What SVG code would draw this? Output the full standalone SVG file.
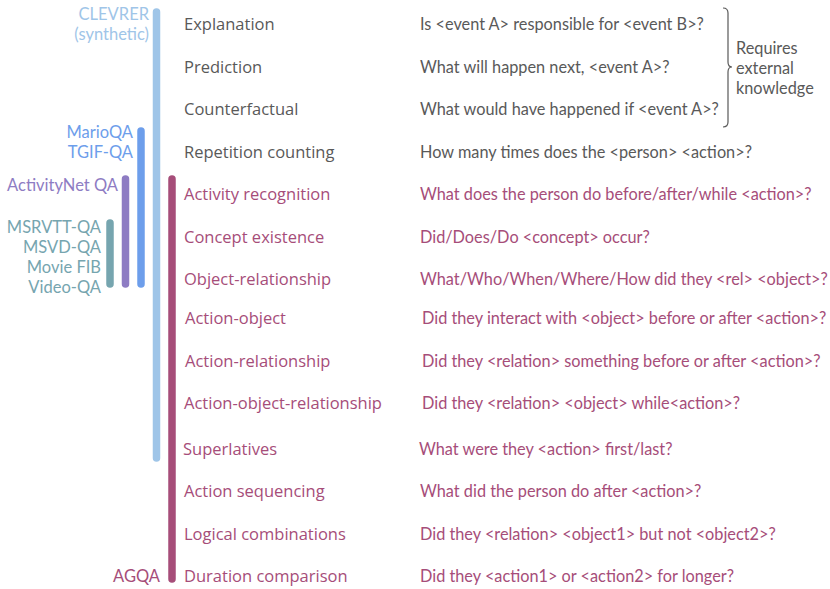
<svg xmlns="http://www.w3.org/2000/svg" width="830" height="589" viewBox="0 0 830 589">
<style>
.bar{stroke-width:7.5;stroke-linecap:round;fill:none}
.ds{font-family:Lato,"Open Sans",sans-serif;font-size:16.5px;text-anchor:end}
.cat{font-family:"Open Sans",Lato,sans-serif;font-size:16.5px}
.q{font-family:Lato,"Open Sans",sans-serif;font-size:16.3px}
.g{fill:#595959}
.m{fill:#a64d79}
</style>
<rect width="830" height="589" fill="#ffffff"/>
<g id="connectors">
<line class="bar" x1="156.5" y1="12" x2="156.5" y2="458" stroke="#9fc5e8"/>
<line class="bar" x1="141" y1="131" x2="141" y2="284" stroke="#6d9eeb"/>
<line class="bar" x1="125.5" y1="179" x2="125.5" y2="284" stroke="#8e7cc3"/>
<line class="bar" x1="110" y1="223" x2="110" y2="284" stroke="#76a5af"/>
<line class="bar" x1="172" y1="179" x2="172" y2="579" stroke="#a64d79"/>
<path d="M723,8 q5,0 5,5 v49 q0,5 4,5 q-4,0 -4,5 v50 q0,5 -5,5" fill="none" stroke="#595959" stroke-width="1.2"/>
</g>
<g id="datasets">
<text class="ds" x="149" y="20" fill="#9fc5e8">CLEVRER</text>
<text class="ds" x="149" y="40" fill="#9fc5e8">(synthetic)</text>
<text class="ds" x="133" y="138" fill="#6d9eeb">MarioQA</text>
<text class="ds" x="133" y="158" fill="#6d9eeb">TGIF-QA</text>
<text class="ds" x="118" y="191" fill="#8e7cc3">ActivityNet QA</text>
<text class="ds" x="101" y="233" fill="#76a5af">MSRVTT-QA</text>
<text class="ds" x="101" y="253" fill="#76a5af">MSVD-QA</text>
<text class="ds" x="101" y="273" fill="#76a5af">Movie FIB</text>
<text class="ds" x="101" y="293" fill="#76a5af">Video-QA</text>
<text class="ds" x="160" y="582" fill="#a64d79">AGQA</text>
</g>
<g id="row1"><text class="cat g" x="184" y="30">Explanation</text><text class="q g" x="420" y="30">Is &lt;event A&gt; responsible for &lt;event B&gt;?</text></g>
<g id="row2"><text class="cat g" x="184" y="73">Prediction</text><text class="q g" x="420" y="73">What will happen next, &lt;event A&gt;?</text></g>
<g id="row3"><text class="cat g" x="184" y="115">Counterfactual</text><text class="q g" x="420" y="115">What would have happened if &lt;event A&gt;?</text></g>
<g id="row4"><text class="cat g" x="184" y="158">Repetition counting</text><text class="q g" x="420" y="158">How many times does the &lt;person&gt; &lt;action&gt;?</text></g>
<g id="row5"><text class="cat m" x="184" y="200">Activity recognition</text><text class="q m" x="420" y="200">What does the person do before/after/while &lt;action&gt;?</text></g>
<g id="row6"><text class="cat m" x="184" y="243">Concept existence</text><text class="q m" x="420" y="243">Did/Does/Do &lt;concept&gt; occur?</text></g>
<g id="row7"><text class="cat m" x="184" y="285">Object-relationship</text><text class="q m" x="420" y="285">What/Who/When/Where/How did they &lt;rel&gt; &lt;object&gt;?</text></g>
<g id="row8"><text class="cat m" x="185" y="324">Action-object</text><text class="q m" x="422" y="324">Did they interact with &lt;object&gt; before or after &lt;action&gt;?</text></g>
<g id="row9"><text class="cat m" x="185" y="367">Action-relationship</text><text class="q m" x="422" y="367">Did they &lt;relation&gt; something before or after &lt;action&gt;?</text></g>
<g id="row10"><text class="cat m" x="184" y="409">Action-object-relationship</text><text class="q m" x="422" y="409">Did they &lt;relation&gt; &lt;object&gt; while&lt;action&gt;?</text></g>
<g id="row11"><text class="cat m" x="183" y="455">Superlatives</text><text class="q m" x="419" y="455">What were they &lt;action&gt; first/last?</text></g>
<g id="row12"><text class="cat m" x="184" y="497">Action sequencing</text><text class="q m" x="420" y="497">What did the person do after &lt;action&gt;?</text></g>
<g id="row13"><text class="cat m" x="184" y="540">Logical combinations</text><text class="q m" x="420" y="540">Did they &lt;relation&gt; &lt;object1&gt; but not &lt;object2&gt;?</text></g>
<g id="row14"><text class="cat m" x="184" y="582">Duration comparison</text><text class="q m" x="420" y="582">Did they &lt;action1&gt; or &lt;action2&gt; for longer?</text></g>
<g id="note">
<text class="q g" x="736" y="54">Requires</text>
<text class="q g" x="736" y="74">external</text>
<text class="q g" x="736" y="94">knowledge</text>
</g>
</svg>
